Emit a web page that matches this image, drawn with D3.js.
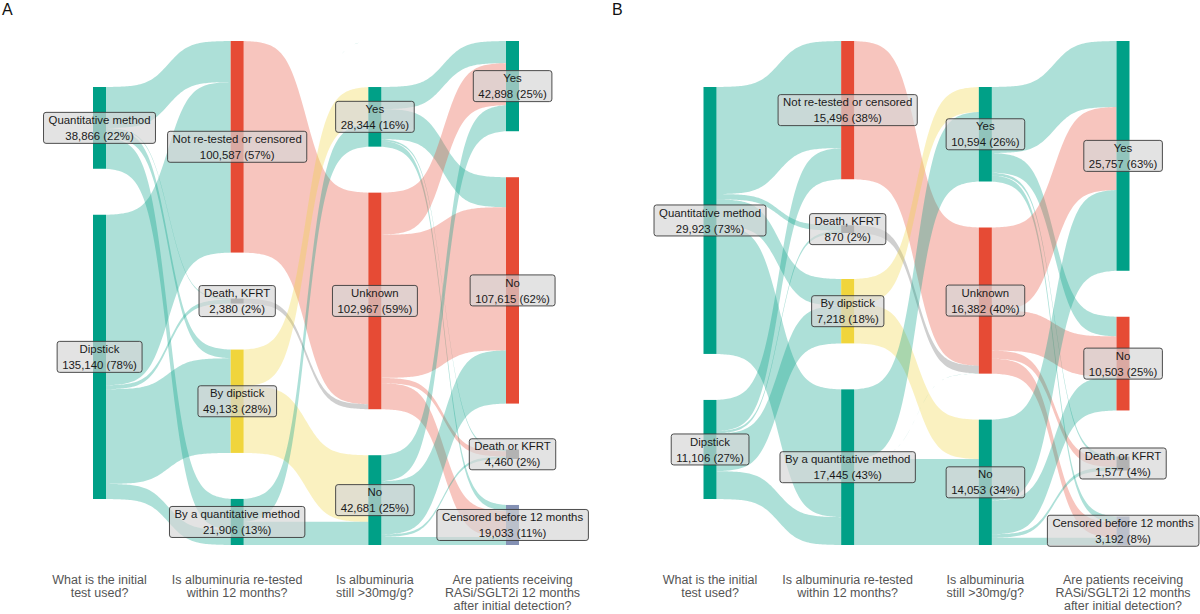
<!DOCTYPE html>
<html>
<head>
<meta charset="utf-8">
<script src="https://cdn.jsdelivr.net/npm/d3@7"></script>
<style>
  body { margin: 0; background: #fff; }
  svg { display: block; font-family: "Liberation Sans", Arial, sans-serif; }
</style>
</head>
<body>
<div id="chart"></div>
<script>
// --------------------------------------
//  Data
// --------------------------------------

const panels = ["A", "B"];

const axisTitles = [
  ["What is the initial", "test used?"],
  ["Is albuminuria re-tested", "within 12 months?"],
  ["Is albuminuria", "still >30mg/g?"],
  ["Are patients receiving", "RASi/SGLT2i 12 months", "after initial detection?"]
];

// strata of each axis, top to bottom ("NA" is an unlabelled empty stratum)
const nodeNames = [
  ["Quantitative method", "Dipstick"],
  ["Not re-tested or censored", "Death, KFRT", "By dipstick", "By a quantitative method"],
  ["NA", "Yes", "Unknown", "No"],
  ["Yes", "No", "Death or KFRT", "Censored before 12 months"]
];

const countsA = [[38866, 135140], [100587, 2380, 49133, 21906], [14, 28344, 102967, 42681], [42898, 107615, 4460, 19033]];
const pctsA   = [[22, 78], [57, 2, 28, 13], [null, 16, 59, 25], [25, 62, 2, 11]];
const countsB = [[29923, 11106], [15496, 870, 7218, 17445], [0, 10594, 16382, 14053], [25757, 10503, 1577, 3192]];
const pctsB   = [[73, 27], [38, 2, 18, 43], [null, 26, 40, 34], [63, 25, 4, 8]];

// flows between neighbouring axes: rows = source stratum, columns = target stratum
const flowsA = [
  [[19500, 500, 4133, 14733], [81087, 1880, 45000, 7173]],
  [[0, 0, 100587, 0], [0, 0, 2380, 0], [0, 17450, 0, 31683], [14, 10894, 0, 10998]],
  [[0, 0, 0, 14], [10500, 14244, 800, 2800], [20000, 68067, 2500, 12400], [12398, 25304, 1160, 3819]]
];
const flowsB = [
  [[12000, 600, 3000, 14323], [3496, 270, 4218, 3122]],
  [[0, 0, 15496, 0], [0, 0, 870, 0], [0, 2800, 0, 4418], [0, 7794, 16, 9635]],
  [[0, 0, 0, 0], [7400, 2200, 300, 694], [9300, 4500, 900, 1682], [9057, 3803, 377, 816]]
];

// --------------------------------------
//  Margin and canvas
// --------------------------------------

const width = 1200;
const height = 614;
const plotTop = 41;
const plotBottom = 545;
const gap = 46;
const nodeW = 13;
const panelRange = [[99.5, 512.5], [710, 1123]];

const teal = "#00A087", red = "#E64B35", grey = "#6b6b6b", yellow = "#F0D53C", slate = "#8491B4";
const nodeColors = [
  [teal, teal],
  [red, grey, yellow, teal],
  ["none", teal, red, teal],
  [teal, red, grey, slate]
];

const svg = d3.select("#chart")
  .append("svg")
    .attr("width", width)
    .attr("height", height)
    .attr("viewBox", `0 0 ${width} ${height}`);

svg.append("rect").attr("width", width).attr("height", height).attr("fill", "#fff");

// --------------------------------------
//  Sankey layout
// --------------------------------------

function layout(flows) {
  const nodes = nodeNames.map((names, a) => names.map((name, i) => {
    const outV = a < 3 ? d3.sum(flows[a][i]) : 0;
    const inV = a > 0 ? d3.sum(flows[a - 1], row => row[i]) : 0;
    return {axis: a, index: i, name, value: Math.max(outV, inV)};
  }));

  const total = d3.sum(nodes[0], d => d.value);
  const h = d3.scaleLinear()
    .domain([0, total])
    .range([0, plotBottom - plotTop - 3 * gap]);
  const centre = (plotTop + plotBottom) / 2;

  nodes.forEach(col => {
    const span = d3.sum(col, d => h(d.value)) + (col.length - 1) * gap;
    let y = centre - span / 2;
    col.forEach(d => {
      d.y0 = y;
      d.y1 = y + h(d.value);
      d.outY = y;
      d.inY = y;
      y = d.y1 + gap;
    });
  });

  const links = [];
  flows.forEach((m, a) => {
    m.forEach((row, i) => row.forEach((v, j) => {
      if (v > 0) links.push({axis: a, source: nodes[a][i], target: nodes[a + 1][j], value: v});
    }));
  });
  // outgoing stacked in target order, incoming stacked in source order
  links.forEach(l => {
    l.sy0 = l.source.outY; l.sy1 = l.sy0 + h(l.value); l.source.outY = l.sy1;
  });
  d3.sort(links, l => l.axis, l => l.target.index, l => l.source.index).forEach(l => {
    l.ty0 = l.target.inY; l.ty1 = l.ty0 + h(l.value); l.target.inY = l.ty1;
  });
  return {nodes, links};
}

const smooth = 6;
const sig = t => 1 / (1 + Math.exp(-(t * 2 - 1) * smooth));
const ease = t => (sig(t) - sig(0)) / (sig(1) - sig(0));

const area = d3.area()
  .x(d => d.x)
  .y0(d => d.y0)
  .y1(d => d.y1);

const fmt = d3.format(",");

// --------------------------------------
//  Panels
// --------------------------------------

panels.forEach((panel, p) => {
  const flows = p === 0 ? flowsA : flowsB;
  const counts = p === 0 ? countsA : countsB;
  const pcts = p === 0 ? pctsA : pctsB;
  const {nodes, links} = layout(flows);

  const x = d3.scalePoint()
    .domain([0, 1, 2, 3])
    .range(panelRange[p]);

  const g = svg.append("g");

  // flows
  g.append("g")
    .selectAll("path")
    .data(links)
    .join("path")
      .attr("d", l => {
        const x0 = x(l.axis) + nodeW / 2, x1 = x(l.axis + 1) - nodeW / 2;
        return area(d3.range(0, 81).map(k => {
          const t = k / 80, e = ease(t);
          return {x: x0 + (x1 - x0) * t, y0: l.sy0 + (l.ty0 - l.sy0) * e, y1: l.sy1 + (l.ty1 - l.sy1) * e};
        }));
      })
      .attr("fill", l => nodeColors[l.axis][l.source.index])
      .attr("fill-opacity", 0.32);

  const allNodes = nodes.flat().filter(d => d.name !== "NA");

  // strata
  g.append("g")
    .selectAll("rect")
    .data(allNodes)
    .join("rect")
      .attr("x", d => x(d.axis) - nodeW / 2)
      .attr("y", d => d.y0)
      .attr("width", nodeW)
      .attr("height", d => Math.max(d.y1 - d.y0, 0.5))
      .attr("fill", d => nodeColors[d.axis][d.index]);

  // labels
  const labels = g.append("g")
    .selectAll("g")
    .data(allNodes)
    .join("g")
      .attr("transform", d => `translate(${x(d.axis)}, ${(d.y0 + d.y1) / 2})`);

  const boxes = labels.append("rect")
    .attr("fill", "#d6d6d6")
    .attr("fill-opacity", 0.68)
    .attr("stroke", "#3a3a3a")
    .attr("stroke-width", 0.9)
    .attr("rx", 2.5);

  const texts = labels.append("text")
    .attr("text-anchor", "middle")
    .attr("font-size", 11.4)
    .attr("fill", "#1a1a1a");

  texts.append("tspan").attr("x", 0).attr("y", -8).attr("dy", "0.36em").text(d => d.name);
  texts.append("tspan").attr("x", 0).attr("y", 8).attr("dy", "0.36em")
    .text(d => `${fmt(counts[d.axis][d.index])} (${pcts[d.axis][d.index]}%)`);

  boxes.each(function() {
    const bb = this.parentNode.querySelector("text").getBBox();
    d3.select(this)
      .attr("x", bb.x - 5)
      .attr("y", -15.5)
      .attr("width", bb.width + 10)
      .attr("height", 31);
  });

  // axis titles
  g.append("g")
    .selectAll("text")
    .data(axisTitles)
    .join("text")
      .attr("text-anchor", "middle")
      .attr("font-size", 12.5)
      .attr("fill", "#555")
      .attr("transform", (d, i) => `translate(${x(i)}, 580)`)
    .selectAll("tspan")
    .data(d => d)
    .join("tspan")
      .attr("x", 0)
      .attr("y", (d, i) => i * 12.8)
      .attr("dy", "0.35em")
      .text(d => d);

  // panel letter
  g.append("text")
    .attr("x", p === 0 ? 2 : 612)
    .attr("y", 15)
    .attr("font-size", 16)
    .attr("fill", "#111")
    .text(panel);
});
</script>
</body>
</html>
